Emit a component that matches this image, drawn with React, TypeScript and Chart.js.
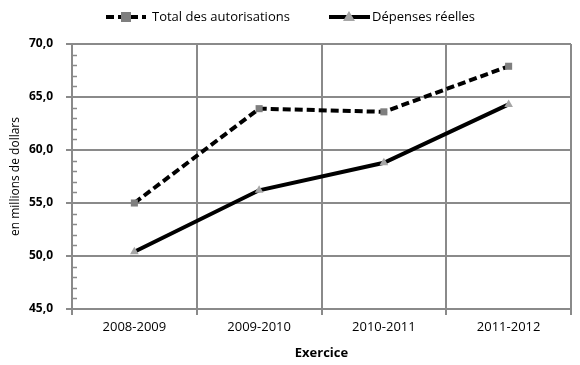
import React, { useEffect, useRef } from "react";
import { Chart, registerables } from "chart.js";

Chart.register(...registerables);

const categories = ["2008-2009", "2009-2010", "2010-2011", "2011-2012"];
const totalAutorisations = [55.0, 63.9, 63.6, 67.9];
const depensesReelles = [50.4, 56.2, 58.8, 64.3];
const seriesNames = ["Total des autorisations", "Dépenses réelles"];
const yTitle = "en millions de dollars";
const xTitle = "Exercice";

const FONT = "'Open Sans', 'DejaVu Sans', sans-serif";
const GRID = "#8a8a8a";

const extras = {
  id: "extras",
  afterDraw(chart: any) {
    const ctx = chart.ctx;
    const y = chart.scales.y;
    const area = chart.chartArea;
    ctx.save();
    // minor ticks inside the plot
    ctx.strokeStyle = GRID;
    ctx.lineWidth = 1.5;
    for (let v = y.min; v <= y.max; v += 1) {
      if (Math.abs(v % 5) < 1e-6) continue;
      const py = Math.round(y.getPixelForValue(v)) + 0.5;
      ctx.beginPath();
      ctx.moveTo(area.left, py);
      ctx.lineTo(area.left + 5, py);
      ctx.stroke();
    }
    // legend
    const ly = 17;
    ctx.font = `13px ${FONT}`;
    ctx.textBaseline = "middle";
    ctx.strokeStyle = "#000";
    ctx.lineWidth = 4;
    ctx.setLineDash([8, 4]);
    ctx.beginPath();
    ctx.moveTo(106, ly);
    ctx.lineTo(146, ly);
    ctx.stroke();
    ctx.setLineDash([]);
    ctx.fillStyle = "#7f7f7f";
    ctx.fillRect(121, ly - 5, 10, 10);
    ctx.fillStyle = "#000";
    ctx.textAlign = "left";
    ctx.fillText(seriesNames[0], 152, ly);
    ctx.beginPath();
    ctx.moveTo(329, ly);
    ctx.lineTo(370, ly);
    ctx.stroke();
    ctx.fillStyle = "#a6a6a6";
    ctx.beginPath();
    ctx.moveTo(349, ly - 6);
    ctx.lineTo(355, ly + 4);
    ctx.lineTo(343, ly + 4);
    ctx.closePath();
    ctx.fill();
    ctx.fillStyle = "#000";
    ctx.fillText(seriesNames[1], 372, ly);
    ctx.restore();
  },
};

export default function App() {
  const ref = useRef<HTMLCanvasElement>(null);
  useEffect(() => {
    const chart = new Chart(ref.current!, {
      type: "line",
      data: {
        labels: categories,
        datasets: [
          {
            label: seriesNames[0],
            data: totalAutorisations,
            borderColor: "#000",
            borderWidth: 4,
            borderDash: [8, 4],
            pointStyle: "rect",
            pointRadius: 5,
            pointBackgroundColor: "#7f7f7f",
            pointBorderColor: "#7f7f7f",
            pointBorderWidth: 0,
            tension: 0,
          },
          {
            label: seriesNames[1],
            data: depensesReelles,
            borderColor: "#000",
            borderWidth: 4,
            pointStyle: "triangle",
            pointRadius: 5,
            pointBackgroundColor: "#a6a6a6",
            pointBorderColor: "#a6a6a6",
            pointBorderWidth: 0,
            tension: 0,
          },
        ],
      },
      options: {
        animation: false,
        responsive: false,
        maintainAspectRatio: false,
        layout: { padding: { top: 44, right: 9, bottom: 0, left: 0 } },
        plugins: { legend: { display: false }, tooltip: { enabled: false } },
        scales: {
          x: {
            offset: true,
            afterFit: (s: any) => { s.height = 56; },
            grid: { offset: true, color: GRID, lineWidth: 2, tickLength: 6, tickColor: GRID },
            border: { color: GRID, width: 2 },
            ticks: { color: "#000", font: { family: FONT, size: 13 }, padding: 4 },
            title: { display: true, text: xTitle, color: "#000", font: { family: FONT, size: 13, weight: "bold" }, padding: { top: 4, bottom: 4 } },
          },
          y: {
            min: 45,
            max: 70,
            afterFit: (s: any) => { s.width = 72; },
            ticks: {
              stepSize: 5,
              color: "#000",
              font: { family: FONT, size: 12, weight: "bold" },
              padding: 13,
              callback: (v: any) => Number(v).toFixed(1).replace(".", ","),
            },
            grid: { color: GRID, lineWidth: 2, tickLength: 6, tickColor: GRID },
            border: { color: GRID, width: 2 },
            title: { display: true, text: yTitle, color: "#000", font: { family: FONT, size: 12 }, padding: { top: 8, bottom: 8 } },
          },
        },
      },
      plugins: [extras],
    });
    return () => chart.destroy();
  }, []);
  return (
    <div style={{ position: "fixed", left: 0, top: 0, width: 580, height: 365, background: "#fff" }}>
      <canvas ref={ref} width={580} height={365} />
    </div>
  );
}
